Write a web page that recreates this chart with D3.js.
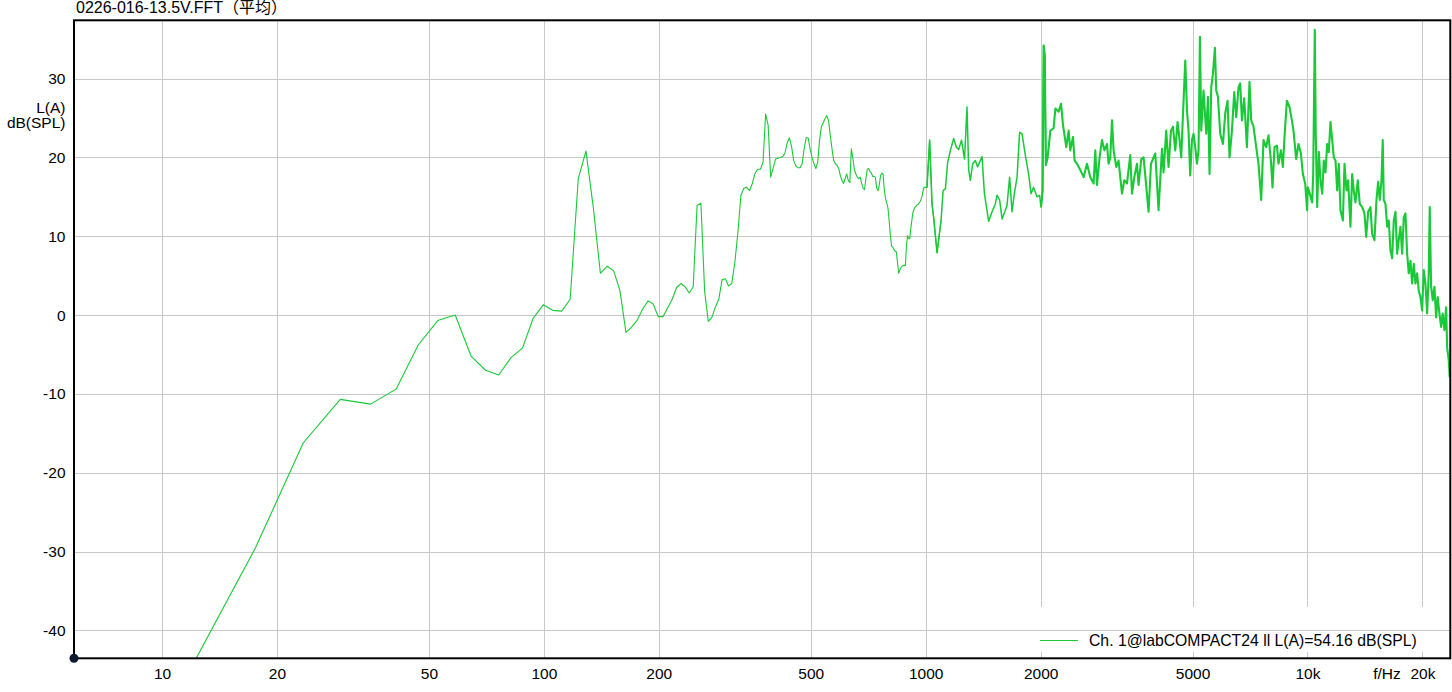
<!DOCTYPE html>
<html>
<head>
<meta charset="utf-8">
<script src="https://cdn.jsdelivr.net/npm/d3@7"></script>
<style>
  html, body { margin: 0; padding: 0; background: #fff; }
  svg { display: block; }
  text { font-family: "Liberation Sans", Arial, "Noto Sans CJK SC", sans-serif; fill: #000; }
</style>
</head>
<body>
<svg id="chart" width="1452" height="692"></svg>
<script>
// ---------------- data ----------------
const chartTitle = "0226-016-13.5V.FFT（平均）";
const yLabelLines = ["L(A)", "dB(SPL)"];
const xUnitLabel = "f/Hz";
const legendLabel = "Ch. 1@labCOMPACT24 ll L(A)=54.16 dB(SPL)";

const xTickValues = [10, 20, 50, 100, 200, 500, 1000, 2000, 5000, 10000, 20000];
const xTickLabels = ["10", "20", "50", "100", "200", "500", "1000", "2000", "5000", "10k", "20k"];
const yTickValues = [-40, -30, -20, -10, 0, 10, 20, 30];
const yTickLabels = ["-40", "-30", "-20", "-10", "0", "10", "20", "30"];

// FFT bins (Hz, dB) – low frequency part
const lowBins = [
  [5.86,-52],[11.72,-45.4],[17.58,-29.5],[23.44,-16.2],[29.30,-10.7],[35.16,-11.3],[41.02,-9.4],[46.88,-3.8],
  [52.73,-0.7],[58.59,0.0],[64.45,-5.2],[70.31,-7.0],[76.17,-7.6],[82.03,-5.4],[87.89,-4.2],[93.75,-0.4],
  [99.61,1.3],[105.47,0.6],[111.33,0.5],[117.19,2.0],[123.05,17.3],[128.91,20.8],[134.77,13.6],[140.63,5.3],
  [146.48,6.2],[152.34,5.6],[158.20,3.1],[164.06,-2.2],[169.92,-1.5],[175.78,-0.6],[181.64,0.8],[187.50,1.8],
  [193.36,1.4],[199.22,-0.2],[205.08,-0.2],[210.94,0.9],[216.80,2.0],[222.66,3.5],[228.52,4.0],[234.38,3.6],
  [240.23,2.8],[246.09,3.6],[251.95,13.9],[257.81,14.2],[263.67,3.0],[269.53,-0.8],[275.39,-0.3],[281.25,1.0],
  [287.11,2.0],[292.97,4.5],[298.83,4.6],[304.69,3.7],[310.55,4.0],[316.41,6.7],[322.27,10.5],[328.13,15.2],
  [333.98,16.1],[339.84,16.2],[345.70,15.8],[351.56,16.7],[357.42,18.0],[363.28,18.5],[369.14,18.5],[375.00,19.4],
  [380.86,25.5],[386.72,24.1],[392.58,17.5],[398.44,18.6],[404.30,19.8],[410.16,19.9],[416.02,20.0],[421.88,20.1],
  [427.73,20.5],[433.59,21.8],[439.45,22.5],[445.31,21.4],[451.17,19.6],[457.03,18.9],[462.89,18.7],[468.75,18.7],
  [474.61,19.2],[480.47,21.1],[486.33,22.5],[492.19,22.5],[498.05,21.1],[503.91,20.0],[509.77,19.2],[515.63,18.6],
  [521.48,19.4],[527.34,22.2],[533.20,23.9],[539.06,24.4],[544.92,24.9],[550.78,25.3],[556.64,24.7],[562.50,22.8],
  [568.36,21.1],[574.22,19.6],[580.08,19.2],[585.94,19.0],[591.80,18.6],[597.66,17.7],[603.52,17.1],[609.38,16.7],
  [615.23,17.3],[621.09,17.9],[626.95,17.1],[632.81,16.8],[638.67,21.1],[644.53,19.9],[650.39,18.5],[656.25,17.9],
  [662.11,17.5],[667.97,17.3],[673.83,17.5],[679.69,16.7],[685.55,16.1],[691.41,15.9],[697.27,17.3],[703.13,18.5],
  [708.98,18.6],[714.84,18.2],[720.70,18.0],[726.56,17.6],[732.42,17.6],[738.28,17.5],[744.14,16.1],[750.00,15.8],
  [755.86,16.5],[761.72,17.7],[767.58,18.0],[773.44,17.9],[779.30,15.8],[785.16,14.8],[791.02,14.2],[796.88,13.5],
  [802.73,11.8],[808.59,10.0],[814.45,8.7],[820.31,8.6],[826.17,8.3],[832.03,8.1],[837.89,8.0],[843.75,6.7],
  [849.61,5.3],[855.47,5.7],[861.33,6.0],[867.19,6.2],[873.05,6.3],[878.91,6.3],[884.77,6.3],[890.63,8.8],
  [896.48,10.1],[902.34,9.7],[908.20,9.7],[914.06,11.0],[919.92,12.0],[925.78,13.0],[931.64,13.4],[937.50,13.7],
  [943.36,13.8],[949.22,14.0],[955.08,14.0],[960.94,14.2],[966.80,14.4],[972.66,14.7],[978.52,15.1],[984.38,15.8],
  [990.23,16.2],[996.09,16.2]
];

// dense high-frequency part (Hz, dB), read as local peaks / dips
const highBins = [
  [1008,16.2],[1024,22.2],[1039,14.1],[1049,12.4],[1071,7.9],[1097,12.0],[1111,15.8],[1126,16.0],[1142,19.4],
  [1161,20.9],[1173,21.7],[1184,22.4],[1203,21.3],[1220,21.0],[1241,22.2],[1264,19.8],[1283,26.4],[1296,18.4],
  [1309,17.1],[1328,19.2],[1349,19.6],[1368,18.8],[1385,19.4],[1405,20.1],[1425,15.4],[1462,11.9],[1492,13.1],
  [1522,14.1],[1538,15.2],[1562,14.6],[1585,12.2],[1617,13.3],[1633,13.9],[1659,17.5],[1683,13.1],[1707,15.4],
  [1735,17.5],[1762,23.2],[1788,23.0],[1824,20.3],[1860,17.9],[1888,15.4],[1917,16.2],[1957,15.0],[1988,15.2],
  [2005,13.7],[2024,15.8],[2037,34.2],[2051,32.9],[2064,19.0],[2086,20.0],[2121,23.4],[2163,23.7],[2186,26.2],
  [2229,25.8],[2262,26.8],[2289,24.1],[2335,21.3],[2368,23.4],[2392,20.9],[2431,22.6],[2455,19.6],[2491,19.2],
  [2541,18.4],[2592,17.5],[2645,19.2],[2699,17.5],[2753,16.7],[2781,20.9],[2810,16.5],[2854,20.0],[2896,22.2],
  [2937,20.9],[2984,21.7],[3013,19.2],[3044,20.0],[3076,24.7],[3106,20.9],[3156,18.8],[3200,19.6],[3267,15.4],
  [3313,17.1],[3367,16.7],[3434,20.3],[3470,15.4],[3519,17.5],[3576,19.2],[3610,16.5],[3670,19.8],[3721,20.0],
  [3760,17.7],[3835,13.1],[3891,19.2],[3993,20.5],[4073,13.3],[4158,21.1],[4198,18.1],[4266,23.4],[4326,18.8],
  [4390,23.4],[4442,23.9],[4505,20.9],[4567,24.5],[4623,22.2],[4670,20.0],[4718,25.3],[4785,32.3],[4834,26.0],
  [4880,23.4],[4930,17.7],[4982,22.2],[5030,23.0],[5082,21.3],[5134,19.2],[5184,20.9],[5227,35.3],[5269,23.4],
  [5342,28.5],[5430,23.0],[5486,27.7],[5539,17.9],[5596,28.9],[5653,30.6],[5722,33.9],[5767,28.5],[5827,27.7],
  [5908,23.0],[6005,21.7],[6089,25.6],[6174,27.2],[6249,20.0],[6340,23.4],[6429,28.3],[6506,25.1],[6597,28.9],
  [6664,29.4],[6734,24.7],[6828,27.5],[6939,21.3],[7049,29.6],[7122,24.7],[7221,23.9],[7339,21.3],[7442,19.2],
  [7564,14.6],[7670,22.2],[7795,21.3],[7904,22.8],[8020,19.6],[8097,16.2],[8196,21.3],[8315,21.5],[8395,19.2],
  [8519,20.9],[8621,18.8],[8705,22.6],[8831,27.2],[8971,26.4],[9102,24.7],[9190,23.4],[9340,19.8],[9471,21.7],
  [9610,20.5],[9725,17.9],[9862,16.7],[9977,13.3],[10018,16.2],[10140,15.4],[10288,14.3],[10350,17.9],[10450,36.2],
  [10514,22.6],[10603,13.7],[10705,20.7],[10815,17.1],[10926,15.4],[11034,19.6],[11146,18.1],[11261,21.7],[11370,20.7],
  [11487,24.5],[11606,22.2],[11720,20.0],[11839,19.6],[11960,15.8],[12077,19.2],[12201,13.3],[12380,12.0],[12499,19.2],
  [12651,15.8],[12779,17.1],[12958,11.2],[13091,17.9],[13221,15.8],[13355,14.3],[13541,17.1],[13706,14.1],[13906,13.7],
  [14100,12.9],[14247,9.9],[14417,13.1],[14619,13.7],[14769,10.3],[14976,9.5],[15158,14.6],[15313,16.9],[15463,14.6],
  [15622,17.1],[15743,22.2],[15841,14.6],[16003,14.1],[16169,11.2],[16324,12.0],[16492,8.2],[16661,7.2],[16826,12.0],
  [16997,13.1],[17171,7.8],[17338,9.5],[17516,11.2],[17696,7.8],[17871,12.4],[18053,12.9],[18239,7.8],[18415,5.3],
  [18605,6.9],[18795,4.0],[18982,6.5],[19175,4.0],[19371,5.3],[19559,3.1],[19760,2.3],[19963,0.6],[20161,5.7],
  [20366,4.0],[20575,0.2],[20775,5.3],[20901,13.7],[21076,3.6],[21280,1.9],[21501,3.6],[21725,-0.3],[21931,2.3],
  [22158,0.2],[22385,-1.5],[22601,0.2],[22836,-1.9],[23074,1.0],[23212,-4.1],[23436,-5.7],[23578,-7.9]
];

// ---------------- layout ----------------
const plot = { left: 74, top: 20.3, right: 1450.3, bottom: 658.3 };
const fontFamily = "Liberation Sans, Arial, sans-serif";
const lineColor = "#19c937";
const gridColor = "#c8c8c8";

const svg = d3.select("#chart");

const x = d3.scaleLog().domain([5.88, 23660]).range([plot.left, plot.right]);
const y = d3.scaleLinear().domain([-43.55, 37.4]).range([plot.bottom, plot.top]);

const crisp = v => Math.round(v) + 0.5;

// vertical grid
svg.append("g").selectAll("line.vx").data(xTickValues).join("line").attr("class", "vx")
  .attr("x1", d => crisp(x(d))).attr("x2", d => crisp(x(d)))
  .attr("y1", plot.top).attr("y2", plot.bottom)
  .attr("stroke", gridColor).attr("stroke-width", 1);

// legend background (hides vertical grid lines)
svg.append("rect")
  .attr("x", 1031).attr("y", 607).attr("width", 414).attr("height", 45)
  .attr("fill", "#fff");

// horizontal grid
svg.append("g").selectAll("line.hy").data(yTickValues).join("line").attr("class", "hy")
  .attr("x1", plot.left).attr("x2", plot.right)
  .attr("y1", d => crisp(y(d))).attr("y2", d => crisp(y(d)))
  .attr("stroke", gridColor).attr("stroke-width", 1);

// clip
svg.append("clipPath").attr("id", "clip").append("rect")
  .attr("x", plot.left).attr("y", plot.top)
  .attr("width", plot.right - plot.left).attr("height", plot.bottom - plot.top);

const series = lowBins.concat(highBins);
const line = d3.line().x(d => x(d[0])).y(d => y(d[1]));

// draw the same series in bands: the dense FFT part renders heavier
const bands = [
  { from: 0, to: 1100, width: 1.1 },
  { from: 1000, to: 2100, width: 1.5 },
  { from: 2000, to: 30000, width: 2.1 }
];
const dataG = svg.append("g").attr("clip-path", "url(#clip)");
bands.forEach(b => {
  dataG.append("path")
    .datum(series.filter(d => d[0] >= b.from && d[0] <= b.to))
    .attr("fill", "none")
    .attr("stroke", lineColor)
    .attr("stroke-width", b.width)
    .attr("stroke-linejoin", "round")
    .attr("d", line);
});

// frame
svg.append("rect")
  .attr("x", plot.left).attr("y", plot.top)
  .attr("width", plot.right - plot.left).attr("height", plot.bottom - plot.top)
  .attr("fill", "none").attr("stroke", "#000").attr("stroke-width", 2);

// corner dot
svg.append("circle").attr("cx", plot.left).attr("cy", plot.bottom).attr("r", 4.5).attr("fill", "#0b1a2e");

// x axis labels
const xAxis = d3.axisBottom(x).tickValues(xTickValues)
  .tickFormat((d, i) => xTickLabels[i]).tickSize(0).tickPadding(9.5);
const gx = svg.append("g").attr("transform", `translate(0,${plot.bottom})`).call(xAxis);
gx.select(".domain").remove();
gx.selectAll("text").attr("font-size", 15.5).attr("font-family", fontFamily).attr("fill", "#000");

// y axis labels
const yAxis = d3.axisLeft(y).tickValues(yTickValues)
  .tickFormat((d, i) => yTickLabels[i]).tickSize(0).tickPadding(8.5);
const gy = svg.append("g").attr("transform", `translate(${plot.left},0)`).call(yAxis);
gy.select(".domain").remove();
gy.selectAll("text").attr("font-size", 15.5).attr("font-family", fontFamily).attr("fill", "#000");

// y unit label
svg.append("g").selectAll("text").data(yLabelLines).join("text")
  .attr("x", 65.5).attr("y", (d, i) => 113 + i * 15)
  .attr("text-anchor", "end").attr("font-size", 15.5)
  .text(d => d);

// x unit label
svg.append("text").attr("x", 1387).attr("y", 679).attr("text-anchor", "middle")
  .attr("font-size", 15.5).text(xUnitLabel);

// title (CJK part in a CJK font with full-width brackets)
svg.append("text").attr("x", 76).attr("y", 13).attr("font-size", 16)
  .attr("font-family", "Liberation Sans, 'Noto Sans CJK SC', sans-serif")
  .text(chartTitle);

// legend
svg.append("line").attr("x1", 1040).attr("x2", 1078).attr("y1", 640.5).attr("y2", 640.5)
  .attr("stroke", lineColor).attr("stroke-width", 1.2);
svg.append("text").attr("x", 1089).attr("y", 646).attr("font-size", 15.75).text(legendLabel);
</script>
</body>
</html>
